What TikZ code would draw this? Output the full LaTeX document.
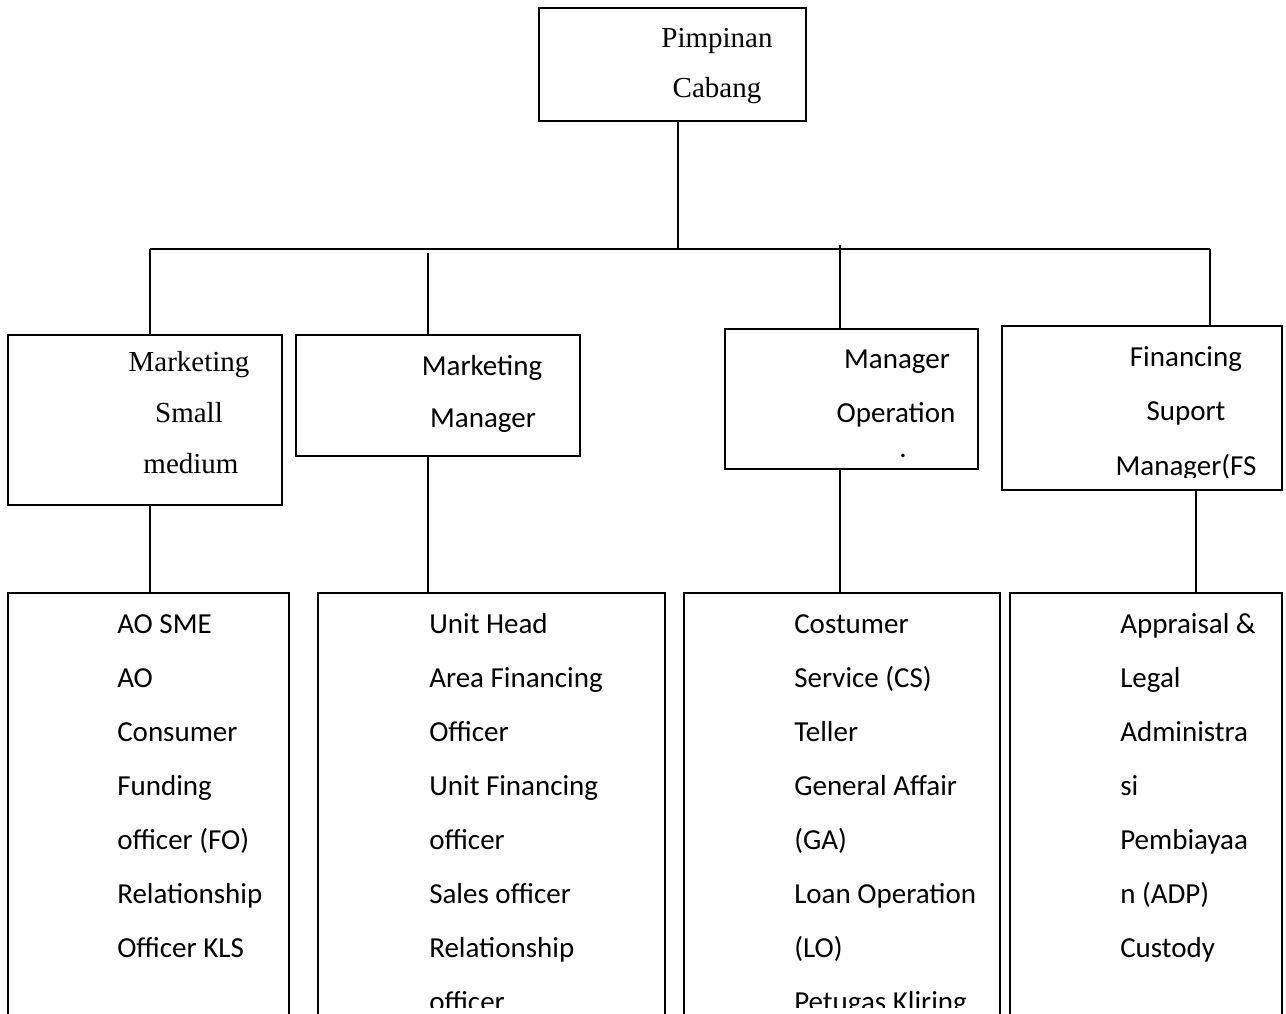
\documentclass[tikz,border=0pt]{standalone}
\usepackage{fontspec}
\setmainfont{Liberation Serif}
\newfontfamily\calibrifont{Carlito}
\usetikzlibrary{fit}
\tikzset{
  box/.style={draw, line width=1.3pt, inner sep=0pt},
  conn/.style={line width=1.3pt},
  sertxt/.style={font=\fontsize{21.75pt}{26pt}\selectfont, inner sep=0pt, anchor=base},
  santxt/.style={font=\calibrifont\fontsize{21.75pt}{26pt}\selectfont, inner sep=0pt, anchor=base},
  lowtxt/.style={font=\calibrifont\fontsize{21.75pt}{26pt}\selectfont, inner sep=0pt, anchor=base west},
}
\begin{document}
\begin{tikzpicture}[x=0.75pt,y=-0.75pt]
\useasboundingbox (0,0) rectangle (1286,1014);
\fill[white] (0,0) rectangle (1286,1014);
\begin{scope}
\clip (0,0) rectangle (1286,1014);
% top box
\node[box, fit={(539,8) (806,121)}] (top) {};
\node[sertxt] (top1) at (717,47) {Pimpinan};
\node[sertxt] (top2) at (717,97) {Cabang};
% second level boxes
\node[box, fit={(8,335) (282,505)}] (b1) {};
\node[sertxt] (b1a) at (189,371) {Marketing};
\node[sertxt] (b1b) at (189,422) {Small};
\node[sertxt] (b1c) at (191,473) {medium};
\node[box, fit={(296,335) (580,456)}] (b2) {};
\node[santxt] (b2a) at (482,375) {Marketing};
\node[santxt] (b2b) at (483,427) {Manager};
\node[box, fit={(725,329) (978,469)}] (b3) {};
\node[santxt] (b3a) at (897,368) {Manager};
\node[santxt] (b3b) at (896,422) {Operation};
\node[santxt] (b3c) at (903,457) {.};
\node[box, fit={(1002,326) (1282,490)}] (b4) {};
\node[santxt] (b4a) at (1186,366) {Financing};
\node[santxt] (b4b) at (1186,420) {Suport};
\begin{scope}
\clip (1002,326) rectangle (1282,477);
\node[santxt] (b4c) at (1186,475) {Manager(FS};
\end{scope}
% lower boxes
\node[box, fit={(8,593) (289,1040)}] (c1) {};
\node[box, fit={(318,593) (665,1040)}] (c2) {};
\node[box, fit={(684,593) (1000,1040)}] (c3) {};
\node[box, fit={(1010,593) (1282,1040)}] (c4) {};
\begin{scope}
\clip (0,593) rectangle (1286,1007);
\foreach \t [count=\i] in {AO SME, AO, Consumer, Funding, officer (FO), Relationship, Officer KLS}
  \node[lowtxt] (c1t\i) at (117,633+54*\i-54) {\t};
\foreach \t [count=\i] in {Unit Head, Area Financing, Officer, Unit Financing, officer, Sales officer, Relationship, officer}
  \node[lowtxt] (c2t\i) at (429,633+54*\i-54) {\t};
\foreach \t [count=\i] in {Costumer, Service (CS), Teller, General Affair, (GA), Loan Operation, (LO), Petugas Kliring}
  \node[lowtxt] (c3t\i) at (794,633+54*\i-54) {\t};
\foreach \t [count=\i] in {Appraisal \&, Legal, Administra, si, Pembiayaa, n (ADP), Custody}
  \node[lowtxt] (c4t\i) at (1120,633+54*\i-54) {\t};
\end{scope}
% connectors
\coordinate (hl) at (150,249);
\coordinate (hr) at (1210,249);
\coordinate (hm) at (678,249);
\coordinate (d2) at (428,253);
\coordinate (d3) at (840,245);
\coordinate (e4) at (1196,0);
\draw[conn] (hm |- top.south) -- (hm);
\draw[conn] (hl) -- (hr);
\draw[conn] (hl) -- (hl |- b1.north);
\draw[conn] (d2) -- (d2 |- b2.north);
\draw[conn] (d3) -- (d3 |- b3.north);
\draw[conn] (hr) -- (hr |- b4.north);
\draw[conn] (hl |- b1.south) -- (hl |- c1.north);
\draw[conn] (d2 |- b2.south) -- (d2 |- c2.north);
\draw[conn] (d3 |- b3.south) -- (d3 |- c3.north);
\draw[conn] (e4 |- b4.south) -- (e4 |- c4.north);
\end{scope}
\end{tikzpicture}
\end{document}
